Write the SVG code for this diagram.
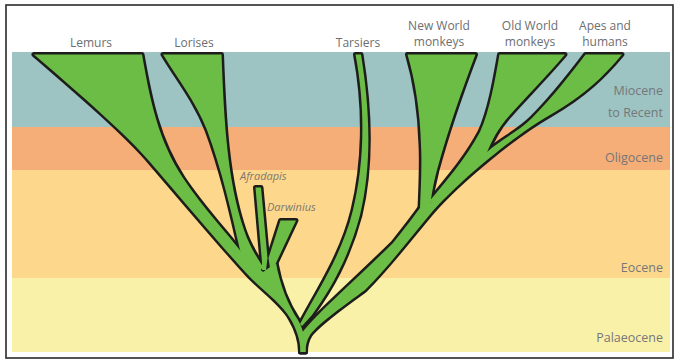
<svg xmlns="http://www.w3.org/2000/svg" width="675" height="362" viewBox="0 0 675 362">
<defs>
<style>
.lab{font-family:"Open Sans","Liberation Sans",sans-serif;font-size:12px;fill:#6d6e71;text-anchor:middle}
.era{font-family:"Open Sans","Liberation Sans",sans-serif;font-size:12.5px;fill:#76777a;text-anchor:end}
.fos{font-family:"Open Sans","Liberation Sans",sans-serif;font-size:11px;font-style:italic;fill:#7d7770}
.outl use{fill:#1d1d1b;stroke:#1d1d1b;stroke-width:5;stroke-linejoin:round}
.fill use{fill:#6cbd45}
</style>
<path id="s-lemurs" d="M34,54.5 L142,54.5 C150,100 158,140 183,178 C203,208 226,232 243,254 L263,272 L276,263 C280,285 288,305 298,320 C303,329 305.5,338 305.5,352 L300.5,352 C300.5,340 296,328 290,318 C283,305 265,292 250,277 C230,256 180,197 150,162 C125,133 82,96 34,54.5 Z"/>
<path id="s-lorises" d="M163,54.5 L221.5,54.5 C224,120 227,180 244,230 C249,245 256,256 263,267 L256,276 L244,262 L240,250 C232,215 222,170 207,130 C195,100 177,78 163,54.5 Z"/>
<path id="s-afradapis" d="M255.5,187.5 L261,187.5 L267.5,258 L266,270 L262,270 L262,262 Z"/>
<path id="s-darwinius" d="M280.5,220.5 L296,220.5 L276,263 L270,268 L268.5,258 Z"/>
<path id="s-tarsiers" d="M355.5,54.5 L361,54.5 C370,110 372,165 360,215 C348,260 330,290 312,315 L302,326 L300,324 C318,290 342,255 353,210 C364,165 366,110 355.5,54.5 Z"/>
<path id="s-nwm" d="M407.5,54.5 L475.5,54.5 C462,90 448,130 437,170 C433,185 431,198 430,208 L420,208 C421,185 422,165 421,145 C420,110 415,80 407.5,54.5 Z"/>
<path id="s-owm" d="M499.5,54.5 L565,54.5 C545,78 525,98 510,115 C498,128 492,140 486,155 L440,202 L428,203 C445,182 465,160 480,132 C490,110 495,80 499.5,54.5 Z"/>
<path id="s-apes" d="M585.5,54.5 L622,54.5 C605,75 585,95 550,115 C515,135 460,180 432,212 C410,238 390,265 365,290 C345,305 320,322 310,335 C307,340 305.5,345 305.5,352 L300.5,352 L300.5,335 C312,318 345,290 393,243 C405,228 415,215 422,205 L440,200 L487,152 C500,140 518,132 532,118 C552,98 570,75 585.5,54.5 Z"/>
</defs>

<rect x="0" y="0" width="675" height="362" fill="#ffffff"/>
<rect x="6" y="5" width="667" height="353" fill="#ffffff" stroke="#2a2a2a" stroke-width="1.6"/>

<g id="eras">
<rect x="12" y="52" width="658" height="75" fill="#9dc4c2"/>
<rect x="12" y="127" width="658" height="43" fill="#f5ae77"/>
<rect x="12" y="170" width="658" height="108" fill="#fdd88c"/>
<rect x="12" y="278" width="658" height="74" fill="#faf1a9"/>
<text class="era" x="663" y="95">Miocene</text>
<text class="era" x="663" y="117">to Recent</text>
<text class="era" x="663" y="162">Oligocene</text>
<text class="era" x="663" y="272">Eocene</text>
<text class="era" x="663" y="342">Palaeocene</text>
</g>

<g id="connectors">
<g class="outl">
<use href="#s-lemurs"/><use href="#s-lorises"/><use href="#s-afradapis"/><use href="#s-darwinius"/>
<use href="#s-tarsiers"/><use href="#s-nwm"/><use href="#s-owm"/><use href="#s-apes"/>
</g>
<g class="fill">
<use href="#s-lemurs"/><use href="#s-lorises"/><use href="#s-afradapis"/><use href="#s-darwinius"/>
<use href="#s-tarsiers"/><use href="#s-nwm"/><use href="#s-owm"/><use href="#s-apes"/>
</g>
</g>

<g id="lemurs"><text class="lab" x="91" y="47">Lemurs</text></g>
<g id="lorises"><text class="lab" x="194" y="47">Lorises</text></g>
<g id="tarsiers"><text class="lab" x="358" y="46.5">Tarsiers</text></g>
<g id="new-world-monkeys"><text class="lab" x="439" y="29.5">New World</text><text class="lab" x="439" y="46">monkeys</text></g>
<g id="old-world-monkeys"><text class="lab" x="530" y="29.5">Old World</text><text class="lab" x="530" y="46">monkeys</text></g>
<g id="apes-humans"><text class="lab" x="605" y="29.5">Apes and</text><text class="lab" x="605" y="46">humans</text></g>
<g id="afradapis"><text class="fos" x="240" y="180">Afradapis</text></g>
<g id="darwinius"><text class="fos" x="267" y="211">Darwinius</text></g>
</svg>
